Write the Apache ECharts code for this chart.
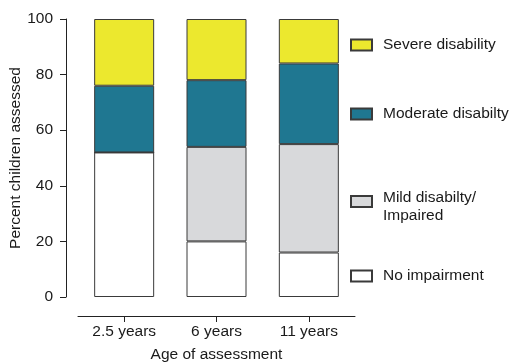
<!DOCTYPE html>
<html>
<head>
<meta charset="utf-8">
<script src="https://cdn.jsdelivr.net/npm/echarts@6/dist/echarts.min.js"></script>
<style>
html,body{margin:0;padding:0;background:#fff;}
#chart{width:514px;height:362px;}
</style>
</head>
<body>
<div id="chart"></div>
<script>
var categories = ['2.5 years', '6 years', '11 years'];
var noImpairment = [52, 20, 16];
var mildDisability = [0, 34, 39];
var moderateDisability = [24, 24, 29];
var severeDisability = [24, 22, 16];
var yTicks = [0, 20, 40, 60, 80, 100];

var FONT = 'Liberation Sans, Arial, Helvetica, sans-serif';
var FS = 15.5;
var TXT = '#1a1a1a';
var BORDER = '#3a3a3a';

var names = ['No impairment', 'Mild disabilty/ Impaired', 'Moderate disabilty', 'Severe disability'];
var colors = ['#ffffff', '#d8d9db', '#1f7791', '#ece82e'];
var dataSets = [noImpairment, mildDisability, moderateDisability, severeDisability];

var series = names.map(function (n, i) {
  return {
    name: n,
    type: 'bar',
    stack: 'total',
    barWidth: 60,
    data: dataSets[i],
    itemStyle: { color: colors[i], borderColor: BORDER, borderWidth: 1 },
    emphasis: { disabled: true },
    animation: false
  };
});

function legendFor(name, top, extraTextStyle, fmt) {
  var ts = { fontFamily: FONT, fontSize: FS, color: TXT, padding: [0, 0, 0, 6] };
  if (extraTextStyle) for (var k in extraTextStyle) ts[k] = extraTextStyle[k];
  var l = {
    data: [name],
    orient: 'vertical',
    left: 350,
    top: top,
    padding: 0,
    itemWidth: 21,
    itemHeight: 11,
    itemGap: 0,
    icon: 'rect',
    selectedMode: false,
    textStyle: ts
  };
  if (fmt) l.formatter = fmt;
  return l;
}

var option = {
  backgroundColor: '#ffffff',
  animation: false,
  grid: { left: 78, right: 159, top: 19, bottom: 65, containLabel: false, outerBoundsMode: 'none' },
  legend: [
    legendFor(names[3], 37),
    legendFor(names[2], 106),
    legendFor(names[1], 180.5, {
      rich: {
        s: { fontSize: 6, lineHeight: 10, fontFamily: FONT, color: TXT },
        a: { fontSize: FS, lineHeight: 18, fontFamily: FONT, color: TXT }
      }
    }, function () { return '{s| }\n{a|Mild disabilty/}\n{a|Impaired}'; }),
    legendFor(names[0], 268)
  ],
  xAxis: {
    type: 'category',
    data: categories,
    offset: 19,
    name: 'Age of assessment',
    nameLocation: 'middle',
    nameGap: 31,
    nameMoveOverlap: false,
    nameTextStyle: { fontFamily: FONT, fontSize: FS, color: TXT },
    axisLine: { show: true, onZero: false, lineStyle: { color: '#222', width: 1 } },
    axisTick: { show: true, alignWithLabel: true, length: 6, lineStyle: { color: '#222' } },
    axisLabel: { fontFamily: FONT, fontSize: FS, color: TXT, margin: 8 },
    splitLine: { show: false }
  },
  yAxis: {
    type: 'value',
    min: yTicks[0],
    max: yTicks[yTicks.length - 1],
    interval: yTicks[1] - yTicks[0],
    offset: 12,
    name: 'Percent children assessed',
    nameLocation: 'middle',
    nameGap: 42,
    nameMoveOverlap: false,
    nameTextStyle: { fontFamily: FONT, fontSize: FS, color: TXT },
    axisLine: { show: true, onZero: false, lineStyle: { color: '#222', width: 1 } },
    axisTick: { show: true, length: 6, lineStyle: { color: '#222' } },
    axisLabel: { fontFamily: FONT, fontSize: FS, color: TXT, margin: 13 },
    splitLine: { show: false }
  },
  series: series
};

var chart = echarts.init(document.getElementById('chart'), null, { renderer: 'canvas' });
chart.setOption(option);
</script>
</body>
</html>
